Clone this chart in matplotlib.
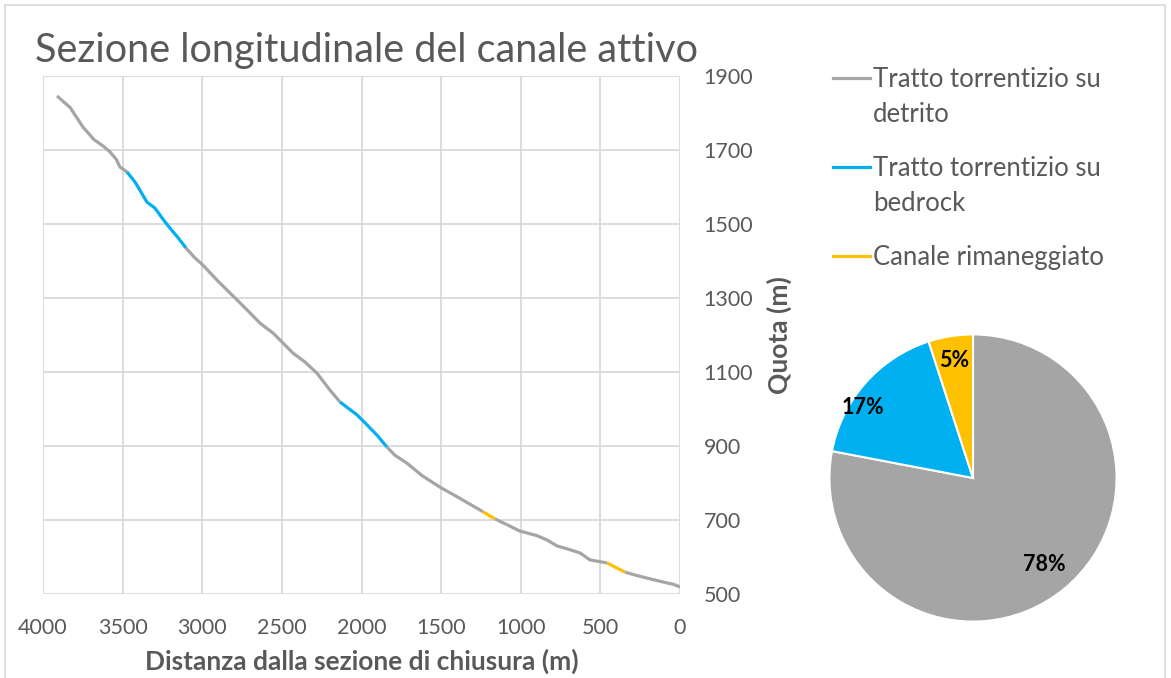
import matplotlib.pyplot as plt
from matplotlib.lines import Line2D
from matplotlib.patches import Rectangle
import numpy as np

plt.rcParams['font.family'] = ['Lato', 'DejaVu Sans']

# profile of the active channel: distance from outlet (m), elevation (m)
# one entry per coloured stretch
seg_types = ['detrito', 'bedrock', 'detrito', 'bedrock', 'detrito',
             'rimaneggiato', 'detrito', 'rimaneggiato', 'detrito']
seg_dist = [
    [3912, 3870, 3830, 3749, 3680, 3620, 3580, 3540, 3517, 3473],
    [3473, 3420, 3347, 3297, 3250, 3203, 3150, 3102],
    [3102, 3050, 2996, 2900, 2782, 2719, 2637, 2555, 2499, 2430, 2355, 2280, 2198, 2135],
    [2135, 2028, 1965, 1900, 1840],
    [1840, 1790, 1716, 1620, 1508, 1380, 1256, 1237],
    [1237, 1162],
    [1162, 1080, 1005, 900, 835, 772, 700, 628, 565, 484, 458],
    [458, 400, 345],
    [345, 280, 207, 150, 82, 40, 0],
]
seg_quota = [
    [1846, 1830, 1815, 1762, 1728, 1710, 1695, 1675, 1654, 1641],
    [1641, 1612, 1559, 1543, 1515, 1489, 1462, 1435],
    [1435, 1410, 1389, 1345, 1295, 1268, 1232, 1205, 1181, 1151, 1127, 1097, 1051, 1019],
    [1019, 984, 957, 928, 897],
    [897, 875, 854, 820, 789, 758, 727, 722],
    [722, 703],
    [703, 686, 670, 658, 646, 630, 621, 611, 592, 586, 584],
    [584, 571, 559],
    [559, 551, 543, 537, 530, 526, 519],
]

# pie shares
pie_labels = ['detrito', 'bedrock', 'rimaneggiato']
pie_values = [78, 17, 5]

legend_labels = ['Tratto torrentizio su\ndetrito', 'Tratto torrentizio su\nbedrock',
                 'Canale rimaneggiato']
colors = {'detrito': '#A5A5A5', 'bedrock': '#00B0F0', 'rimaneggiato': '#FFC000'}
txt = '#595959'
grid_c = '#D9D9D9'

W, H = 1171, 678
fig = plt.figure(figsize=(W / 100, H / 100), dpi=100)

def fx(px):
    return px / W

def fy(py):
    return 1 - py / H

# outer chart border
fig.add_artist(Rectangle((fx(5), fy(700)), fx(1160), (700 - 5) / H, transform=fig.transFigure,
                         fill=False, edgecolor=grid_c, lw=1.2))

ax = fig.add_axes([fx(43), fy(594), fx(680 - 43), (594 - 76) / H])
for t, d, q in zip(seg_types, seg_dist, seg_quota):
    ax.plot(d, q, color=colors[t], lw=2.3, solid_capstyle='butt', zorder=3)

ax.set_xlim(4000, 0)
ax.set_ylim(500, 1900)
ax.set_xticks(np.arange(0, 4001, 500))
ax.set_yticks(np.arange(500, 1901, 200))
ax.grid(True, color=grid_c, lw=1.3)
ax.set_axisbelow(True)
for s in ax.spines.values():
    s.set_visible(False)
ax.yaxis.tick_right()
ax.yaxis.set_label_position('right')
ax.tick_params(length=0, labelsize=15.5, colors=txt)
ax.tick_params(axis='y', pad=17)
ax.tick_params(axis='x', pad=17)
ax.set_xlabel('Distanza dalla sezione di chiusura (m)', fontsize=19, fontweight='bold',
              color=txt, labelpad=8)
ax.set_ylabel('Quota (m)', fontsize=19, fontweight='bold', color=txt, labelpad=10)

fig.text(fx(35), fy(62), 'Sezione longitudinale del canale attivo', fontsize=28.5,
         color=txt, ha='left', va='baseline')

# legend drawn by hand so the handle sits on the first text line
leg_y = [78, 167, 256]
for lab, t, y in zip(legend_labels, pie_labels, leg_y):
    fig.add_artist(Line2D([fx(833), fx(870)], [fy(y), fy(y)], color=colors[t], lw=2.3,
                          transform=fig.transFigure))
    fig.text(fx(873), fy(y - 11), lab, fontsize=18.5, color=txt, ha='left', va='top',
             linespacing=1.5)

# pie
pax = fig.add_axes([fx(828), fy(623), fx(290), 290 / H])
wedges, _ = pax.pie(pie_values, colors=[colors[t] for t in pie_labels], startangle=90,
                    counterclock=False, wedgeprops=dict(edgecolor='white', linewidth=1.5))
lab_r = [0.78, 0.91, 0.83]
lab_shift = [0, 9, 0]
for w, v, r, s in zip(wedges, pie_values, lab_r, lab_shift):
    a = np.deg2rad((w.theta1 + w.theta2) / 2 + s)
    pax.text(r * np.cos(a), r * np.sin(a), f'{v}%', ha='center', va='center',
             fontsize=15.5, fontweight='bold', color='black')
pax.set_xlim(-1.01, 1.01)
pax.set_ylim(-1.01, 1.01)
pax.set_aspect('equal')

fig.savefig('out.png', dpi=100)
